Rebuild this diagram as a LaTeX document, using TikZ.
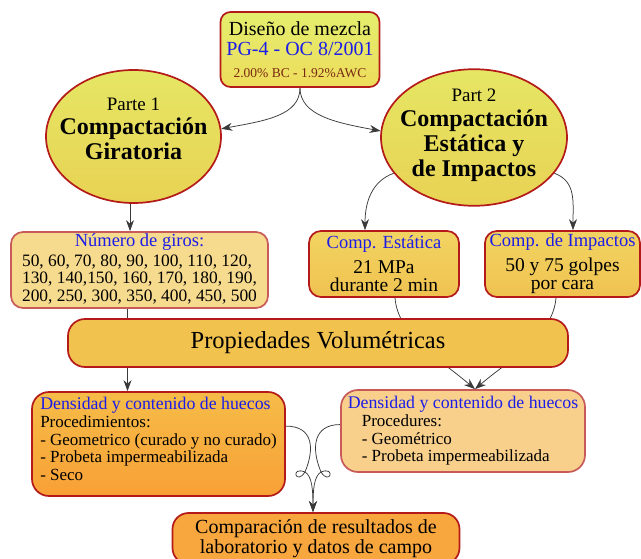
\documentclass[tikz,border=0pt]{standalone}
\usepackage{fontspec}
\setmainfont{Liberation Serif}[BoldFont={Liberation Serif Bold}]
\usetikzlibrary{positioning,arrows.meta,shapes.geometric,backgrounds}

\newcommand{\tam}[2]{\fontsize{#1}{#2}\selectfont}

\begin{document}
\begin{tikzpicture}[x=1pt,y=-1pt,
  caja/.style={rectangle, draw=rojo, line width=1.7pt, inner sep=0pt, align=center},
  clara/.style={caja, draw=rojoclaro},
  elipse/.style={ellipse, draw=rojo, line width=1.7pt, inner sep=0pt, align=center,
    top color=elipA, bottom color=elipB},
  flecha/.style={draw=gris, line width=0.75pt, -{Stealth[length=11pt,width=8pt,inset=3.5pt]}},
  linea/.style={draw=gris, line width=0.75pt}]
  \definecolor{rojo}{HTML}{B41A1A}
  \definecolor{rojoclaro}{HTML}{C85A5A}
  \definecolor{azul}{HTML}{1C1CE8}
  \definecolor{marron}{HTML}{7A2A12}
  \definecolor{gris}{HTML}{3A3A3A}
  \definecolor{mezclaA}{HTML}{E4EE6E}
  \definecolor{mezclaB}{HTML}{EEDC5C}
  \definecolor{elipA}{HTML}{E6E664}
  \definecolor{elipB}{HTML}{E8D254}
  \definecolor{giroF}{HTML}{F6DA8E}
  \definecolor{compA}{HTML}{F2D462}
  \definecolor{compB}{HTML}{F0C250}
  \definecolor{volF}{HTML}{F2C24E}
  \definecolor{densA}{HTML}{F6BC48}
  \definecolor{densB}{HTML}{F8A036}
  \definecolor{densF}{HTML}{F8D08C}
  \definecolor{finF}{HTML}{F8A63E}

  \useasboundingbox (0,0) rectangle (641,559);
  \clip (0,0) rectangle (641,559);

  % nivel 1 y 2
  \node[caja, rounded corners=10pt, top color=mezclaA, bottom color=mezclaB,
        minimum width=159pt, minimum height=75pt, font=\tam{20}{20}] (mezcla) at (300,49.5)
    {Diseño de mezcla\\
     \textcolor{azul}{PG-4 - OC 8/2001}\\[2pt]
     \tam{13.5}{14}\textcolor{marron}{2.00\% BC - 1.92\%AWC}};

  \node[elipse, minimum width=175pt, minimum height=133pt, font=\tam{24}{25}\bfseries] (giro) at (133.5,136.5)
    {\makebox[0pt]{\tam{19}{19}\mdseries Parte 1}\\[-1pt]
     \makebox[0pt]{Compactación}\\
     \makebox[0pt]{Giratoria}\rule[-15pt]{0pt}{15pt}};

  \node[elipse, minimum width=186pt, minimum height=131pt, font=\tam{24}{25}\bfseries] (impacto) at (474,137.5)
    {\makebox[0pt]{\tam{19}{19}\mdseries Part 2}\\
     \makebox[0pt]{Compactación}\\
     \makebox[0pt]{Estática y}\\
     \makebox[0pt]{de Impactos}\rule[-9pt]{0pt}{9pt}};

  % nivel 3
  \node[clara, rounded corners=12pt, fill=giroF, minimum width=257pt, minimum height=76pt,
        font=\tam{17.4}{17.5}] (giros) at (139.5,270)
    {\begin{tabular}{@{}l@{}}
     \multicolumn{1}{@{}c@{}}{\tam{18.5}{18.5}\textcolor{azul}{Número de giros:}}\\[2.5pt]
     50, 60, 70, 80, 90, 100, 110, 120,\\
     130, 140,150, 160, 170, 180, 190,\\
     200, 250, 300, 350, 400, 450, 500
     \end{tabular}};

  \node[caja, rounded corners=12pt, top color=compA, bottom color=compB,
        minimum width=150pt, minimum height=66pt, font=\tam{19.5}{18}] (ce) at (384,264)
    {\tam{18.5}{18.5}\textcolor{azul}{Comp. Estática}\\[7pt]
     21 MPa\\
     durante 2 min};

  \node[caja, rounded corners=12pt, top color=compA, bottom color=compB,
        minimum width=155pt, minimum height=66pt, font=\tam{19.5}{18}] (ci) at (562.5,264)
    {\tam{18.5}{18.5}\textcolor{azul}{Comp. de Impactos}\\[7pt]
     50 y 75 golpes\\
     por cara};

  \node[caja, rounded corners=17pt, fill=volF, minimum width=500pt, minimum height=48pt,
        font=\tam{24.5}{25}] (vol) at (318,343) {Propiedades Volumétricas};

  % nivel 4
  \node[caja, rounded corners=17pt, top color=densA, bottom color=densB, align=left,
        minimum width=253pt, minimum height=104pt, font=\tam{17}{17.5}] (dl) at (158.5,444)
    {\tam{17.8}{17.8}\textcolor{azul}{Densidad y contenido de huecos}\\[0.5pt]
     Procedimientos:\\
     - Geometrico (curado y no curado)\\
     - Probeta impermeabilizada\\
     - Seco\rule[-10pt]{0pt}{10pt}};

  \node[clara, rounded corners=17pt, fill=densF, align=left,
        minimum width=244pt, minimum height=82pt, font=\tam{17}{17.5}] (dr) at (463,431)
    {\tam{17.8}{17.8}\textcolor{azul}{Densidad y contenido de huecos}\\[0.5pt]
     \hspace*{14pt}Procedures:\\
     \hspace*{14pt}- Geométrico\\
     \hspace*{14pt}- Probeta impermeabilizada};

  \node[caja, rounded corners=16pt, fill=finF, minimum width=287pt, minimum height=51pt,
        font=\tam{20}{20}] (fin) at (316,538.5)
    {Comparación de resultados de\\
     laboratorio y datos de campo};

  \coordinate (lazoI) at (305,472);
  \coordinate (lazoD) at (321,472);

  % conectores
  \begin{pgfonlayer}{background}
    \draw[flecha] (mezcla.south) .. controls +(0,28) and +(43,-8) .. (giro.5);
    \draw[flecha] (mezcla.south) .. controls +(0,28) and +(-43,-8) .. (impacto.176);
    \draw[flecha] ([xshift=-3.5pt]giro.south) -- ([xshift=-9.5pt]giros.north);
    \draw[flecha] (impacto.204) .. controls +(-22,8) and +(0,-28) .. ([xshift=-19pt]ce.north);
    \draw[flecha] (impacto.336) .. controls +(22,8) and +(0,-28) .. ([xshift=10.5pt]ci.north);
    \draw[flecha] ([xshift=-12pt]giros.south) -- ([xshift=-31pt]dl.north);
    \draw[flecha] ([xshift=11pt]ce.south) .. controls +(3,38) and +(-35,-30) .. ([xshift=12pt]dr.north);
    \draw[flecha] ([xshift=-6.5pt]ci.south) .. controls +(-3,38) and +(35,-30) .. ([xshift=12pt]dr.north);
    \draw[flecha] (dl.8) .. controls +(27,0) and +(10,-24) .. (lazoI)
      .. controls +(-9,14) and +(-15,-6) .. (lazoI)
      .. controls +(7,4) and +(0,-22) .. ([xshift=-3pt]fin.north);
    \draw[flecha] (dr.177) .. controls +(-27,0) and +(-10,-24) .. (lazoD)
      .. controls +(9,14) and +(15,-6) .. (lazoD)
      .. controls +(-7,4) and +(0,-22) .. ([xshift=-3pt]fin.north);
  \end{pgfonlayer}
\end{tikzpicture}
\end{document}
